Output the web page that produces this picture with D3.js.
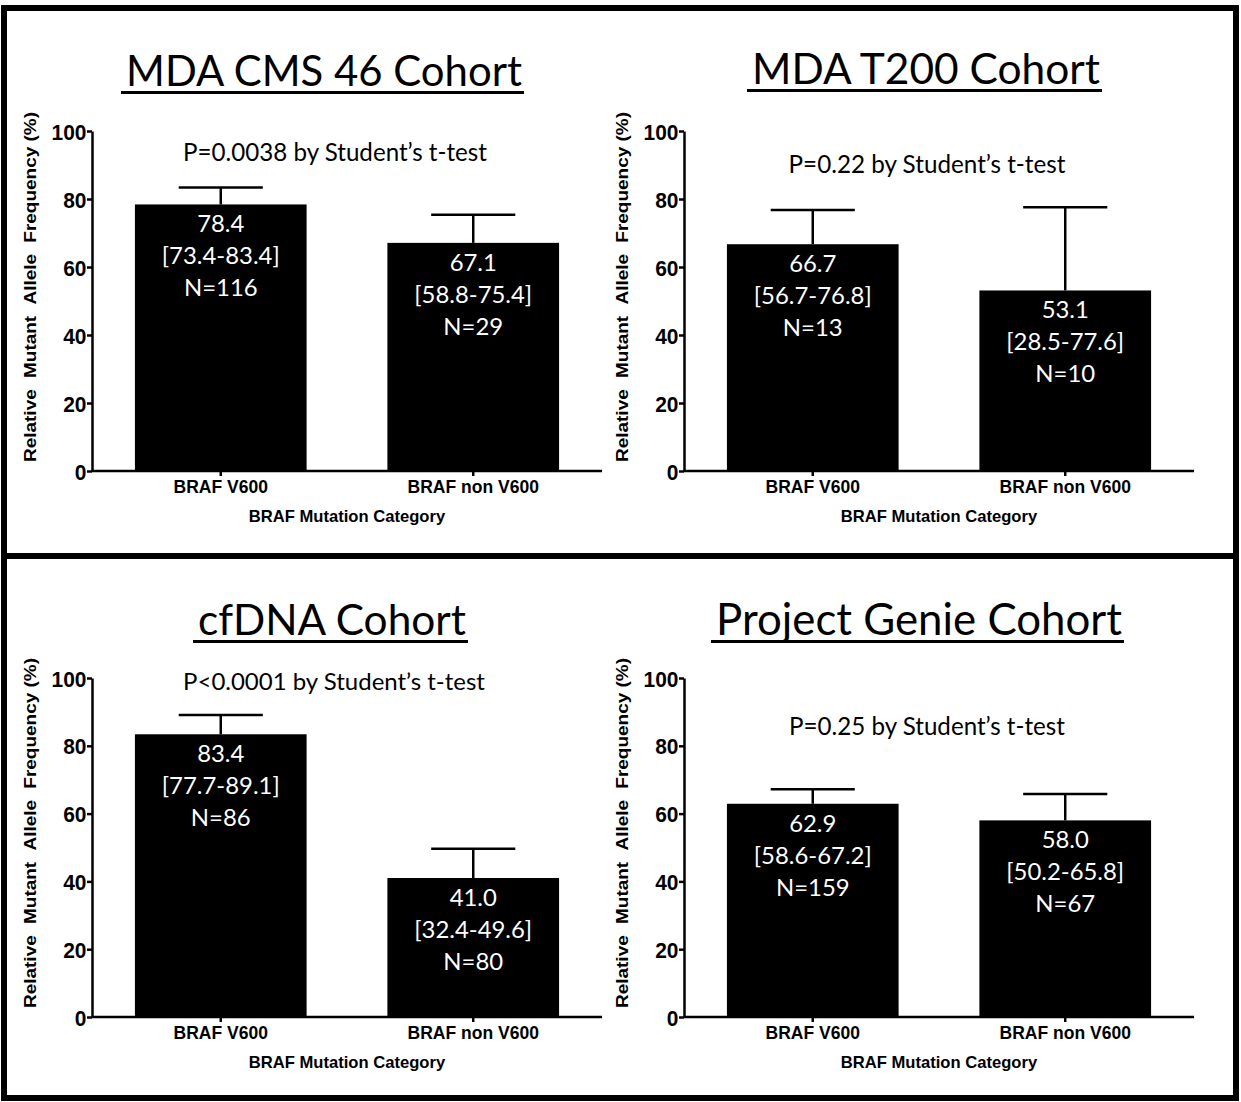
<!DOCTYPE html>
<html>
<head>
<meta charset="utf-8">
<script src="https://cdn.jsdelivr.net/npm/d3@7/dist/d3.min.js"></script>
<style>
  html, body { margin: 0; padding: 0; background: #fff; }
  svg { display: block; }
</style>
</head>
<body>
<svg id="chart" width="1241" height="1102"></svg>
<script>
// ---------------- data ----------------
const categories = ["BRAF V600", "BRAF non V600"];
const cohorts = ["MDA CMS 46 Cohort", "MDA T200 Cohort", "cfDNA Cohort", "Project Genie Cohort"];
const pTexts = [
  "P=0.0038 by Student\u2019s t-test",
  "P=0.22 by Student\u2019s t-test",
  "P<0.0001 by Student\u2019s t-test",
  "P=0.25 by Student\u2019s t-test"
];
const v600Mean = [78.4, 66.7, 83.4, 62.9];
const v600Low  = [73.4, 56.7, 77.7, 58.6];
const v600High = [83.4, 76.8, 89.1, 67.2];
const v600N    = [116, 13, 86, 159];
const nonMean  = [67.1, 53.1, 41.0, 58.0];
const nonLow   = [58.8, 28.5, 32.4, 50.2];
const nonHigh  = [75.4, 77.6, 49.6, 65.8];
const nonN     = [29, 10, 80, 67];
const yTicks   = [0, 20, 40, 60, 80, 100];
const yLabel   = ["Relative", "Mutant", "Allele", "Frequency (%)"];
const xLabel   = "BRAF Mutation Category";

// ---------------- layout ----------------
const layout = [
  { x0: 92,  yTop: 131, yBot: 471,  tCx: 324, tBase: 86,  tW: 396, pCx: 335, pBase: 161, pW: 304 },
  { x0: 684, yTop: 131, yBot: 471,  tCx: 926, tBase: 84,  tW: 348, pCx: 927, pBase: 173, pW: 277 },
  { x0: 92,  yTop: 678, yBot: 1017, tCx: 332, tBase: 635, tW: 268, pCx: 334, pBase: 690, pW: 302 },
  { x0: 684, yTop: 678, yBot: 1017, tCx: 919, tBase: 635, tW: 406, pCx: 927, pBase: 735, pW: 276 }
];
const axisLen = 510;
const humanist = "Lato, 'Open Sans', sans-serif";
const arial = "'Liberation Sans', Arial, sans-serif";

const svg = d3.select("#chart");

// outer frame and separator
svg.append("rect").attr("x", 4).attr("y", 8).attr("width", 1232).attr("height", 1090)
  .attr("fill", "none").attr("stroke", "#000").attr("stroke-width", 6);
svg.append("line").attr("x1", 4).attr("x2", 1236).attr("y1", 556).attr("y2", 556)
  .attr("stroke", "#000").attr("stroke-width", 6);

// helper: fit a text element's font-size to a target width
function fitText(sel, base, target) {
  sel.attr("font-size", base);
  const w = sel.node().getComputedTextLength();
  const s = base * target / w;
  sel.attr("font-size", s);
  return s;
}

// measure bar label font size once
const probe = svg.append("text").attr("font-family", humanist).text("[73.4-83.4]");
const barFont = fitText(probe, 22, 118);
probe.remove();

cohorts.forEach((title, i) => {
  const L = layout[i];
  const g = svg.append("g");
  const y = d3.scaleLinear().domain([0, 100]).range([L.yBot, L.yTop]);
  const x = d3.scaleBand().domain(categories).range([L.x0, L.x0 + axisLen])
    .paddingInner(0.32).paddingOuter(0.17);

  const rows = [
    { cat: categories[0], mean: v600Mean[i], lo: v600Low[i], hi: v600High[i], n: v600N[i] },
    { cat: categories[1], mean: nonMean[i],  lo: nonLow[i],  hi: nonHigh[i],  n: nonN[i] }
  ];

  // title + underline
  const t = g.append("text").attr("x", L.tCx).attr("y", L.tBase)
    .attr("text-anchor", "middle").attr("font-family", humanist).text(title);
  fitText(t, 46, L.tW);
  g.append("line").attr("x1", L.tCx - L.tW / 2 - 5).attr("x2", L.tCx + L.tW / 2 + 2)
    .attr("y1", L.tBase + 6.5).attr("y2", L.tBase + 6.5)
    .attr("stroke", "#000").attr("stroke-width", 3);

  // p value text
  const p = g.append("text").attr("x", L.pCx).attr("y", L.pBase)
    .attr("text-anchor", "middle").attr("font-family", humanist).text(pTexts[i]);
  fitText(p, 23, L.pW);

  // error bars (upper only)
  rows.forEach(r => {
    const cx = x(r.cat) + x.bandwidth() / 2;
    const cap = x.bandwidth() * 0.245;
    g.append("line").attr("x1", cx).attr("x2", cx).attr("y1", y(r.mean)).attr("y2", y(r.hi))
      .attr("stroke", "#000").attr("stroke-width", 2.5);
    g.append("line").attr("x1", cx - cap).attr("x2", cx + cap).attr("y1", y(r.hi)).attr("y2", y(r.hi))
      .attr("stroke", "#000").attr("stroke-width", 2.5);
  });

  // bars
  g.selectAll("rect.bar").data(rows).enter().append("rect")
    .attr("class", "bar")
    .attr("x", d => x(d.cat)).attr("width", x.bandwidth())
    .attr("y", d => y(d.mean)).attr("height", d => y(0) - y(d.mean))
    .attr("fill", "#000");

  // bar labels
  rows.forEach(r => {
    const cx = x(r.cat) + x.bandwidth() / 2;
    const lines = [r.mean.toFixed(1), "[" + r.lo.toFixed(1) + "-" + r.hi.toFixed(1) + "]", "N=" + r.n];
    lines.forEach((s, k) => {
      g.append("text").attr("x", cx).attr("y", y(r.mean) + 28 + k * 32)
        .attr("text-anchor", "middle").attr("fill", "#fff")
        .attr("font-family", humanist).attr("font-size", barFont).text(s);
    });
  });

  // y axis
  const ya = g.append("g").attr("transform", `translate(${L.x0},0)`)
    .call(d3.axisLeft(y).tickValues(yTicks).tickSize(5).tickSizeOuter(0).tickPadding(1));
  ya.selectAll("path, line").attr("stroke", "#000").attr("stroke-width", 2.5);
  ya.selectAll("text").attr("font-family", arial).attr("font-weight", "bold")
    .attr("font-size", 22.5).attr("fill", "#000").attr("dy", "0.36em")
    .attr("transform", "scale(0.93,1)");

  // x axis
  const xa = g.append("g").attr("transform", `translate(0,${L.yBot})`)
    .call(d3.axisBottom(x).tickSize(5).tickSizeOuter(0).tickPadding(5));
  xa.select("path").attr("d", `M${L.x0},0H${L.x0 + axisLen}`);
  xa.selectAll("path, line").attr("stroke", "#000").attr("stroke-width", 2.5);
  xa.selectAll("text").attr("font-family", arial).attr("font-weight", "bold")
    .attr("font-size", 17.5).attr("fill", "#000");

  // x axis title
  g.append("text").attr("x", L.x0 + axisLen / 2).attr("y", L.yBot + 51)
    .attr("text-anchor", "middle").attr("font-family", arial).attr("font-weight", "bold")
    .attr("font-size", 16.6).text(xLabel);

  // y axis title (rotated, stretched along its length), words spread to fill length
  const stretch = 1.15;
  const yl = g.append("text")
    .attr("transform", `translate(${L.x0 - 56},${L.yBot - 9}) rotate(-90) scale(${stretch},1)`)
    .attr("font-family", arial).attr("font-weight", "bold")
    .attr("font-size", 16.5).attr("fill", "#000");
  const spans = yLabel.map(w => yl.append("tspan").text(w));
  const natural = yl.node().getComputedTextLength();
  const gap = Math.max(3, (350 / stretch - natural) / (yLabel.length - 1));
  spans.forEach((s, k) => { if (k > 0) s.attr("dx", gap); });
});
</script>
</body>
</html>
